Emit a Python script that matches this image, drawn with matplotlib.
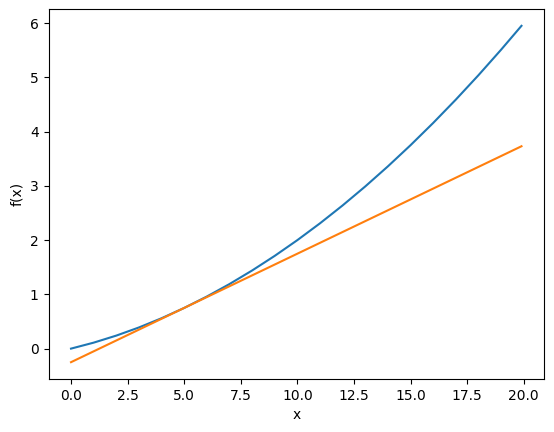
import matplotlib
matplotlib.use("Agg")
import matplotlib.pyplot as plt

# Curve values
x_curve = [0, 1, 2, 3, 4, 5, 6, 7, 8, 9, 10, 11, 12, 13, 14, 15, 16, 17, 18, 19, 19.9]
y_curve = [0.0, 0.11, 0.24, 0.39, 0.56, 0.75, 0.96, 1.19, 1.44, 1.71, 2.0,
           2.31, 2.64, 2.99, 3.36, 3.75, 4.16, 4.59, 5.04, 5.51, 5.95]

# Tangent line endpoints
x_line = [0, 19.9]
y_line = [-0.25, 3.73]

fig = plt.figure(figsize=(5.54, 4.32), dpi=100)
ax = fig.add_axes([48.5 / 554, 1 - 379 / 432, (544 - 48.5) / 554, (379 - 9) / 432])
ax.plot(x_curve, y_curve)
ax.plot(x_line, y_line)
ax.set_xlabel("x")
ax.set_ylabel("f(x)")
fig.savefig("out.png", dpi=100)
